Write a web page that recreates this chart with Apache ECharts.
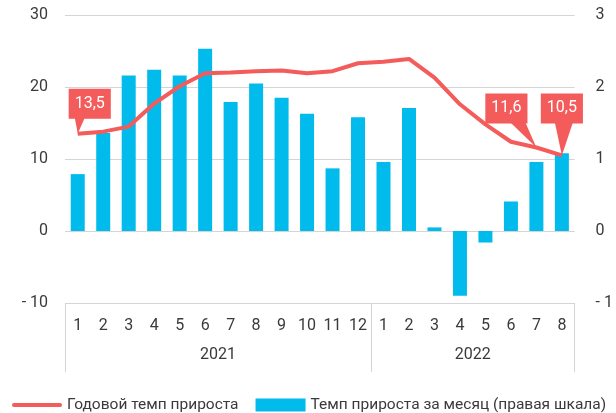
<!DOCTYPE html>
<html>
<head>
<meta charset="utf-8">
<script src="https://cdn.jsdelivr.net/npm/echarts@6/dist/echarts.min.js"></script>
<style>
  html, body { margin: 0; padding: 0; background: #fff; }
  #chart { width: 616px; height: 413px; }
</style>
</head>
<body>
<div id="chart"></div>
<script>
// months on the lower axis, years under them
const months = ["1","2","3","4","5","6","7","8","9","10","11","12","1","2","3","4","5","6","7","8"];
const years = ["","","","","","","2021","","","","","","","","","","2022","","","",""];

// годовой темп прироста, % (left scale)
const annualGrowth = [13.5, 13.8, 14.5, 17.7, 20.1, 21.9, 22.0, 22.2, 22.3, 21.9, 22.2, 23.3, 23.5, 23.9, 21.3, 17.6, 14.8, 12.4, 11.6, 10.5];
// темп прироста за месяц, % (right scale)
const monthlyGrowth = [0.79, 1.36, 2.16, 2.24, 2.16, 2.53, 1.79, 2.05, 1.85, 1.63, 0.87, 1.58, 0.96, 1.71, 0.05, -0.90, -0.16, 0.41, 0.96, 1.08];

// which points get a callout
const calloutIdx = [0, 18, 19];

const RED = "#f45b5b";
const BLUE = "#00bbec";
const TXT = "#3a3a3a";
const FONT = "Roboto";

const chart = echarts.init(document.getElementById("chart"));

function negFmt(v) {
  return v < 0 ? "- " + Math.abs(v) : String(v);
}

// callout layout: box centre shift and gap above the point, tail base
const callouts = {
  0: { dx: 12, gap: 15, t0: -3, t1: 7 },
  18: { dx: -30, gap: 24, t0: -26, t1: -11 },
  19: { dx: 0, gap: 32, t0: -7, t1: 11 }
};

const lineData = annualGrowth.map(function (v, i) {
  const c = callouts[i];
  if (!c) return v;
  return {
    value: v,
    label: {
      show: true,
      position: "top",
      distance: 0,
      offset: [c.dx, -c.gap],
      formatter: String(v).replace(".", ","),
      color: "#fff",
      fontSize: 16,
      fontFamily: FONT,
      backgroundColor: RED,
      padding: [5, 6, 5, 6],
      lineHeight: 20
    }
  };
});

const option = {
  animation: false,
  textStyle: { fontFamily: FONT },
  grid: { left: 65, right: 39, top: 15, bottom: 110 },
  legend: {
    left: 12,
    top: 397,
    width: 800,
    padding: 0,
    itemWidth: 50,
    itemHeight: 13,
    itemGap: 17,
    textStyle: { fontSize: 15.5, color: TXT, fontFamily: FONT },
    data: [
      { name: "Годовой темп прироста", icon: "path://M2,0 L48,0 A2,2 0 0 1 48,4 L2,4 A2,2 0 0 1 2,0 Z" },
      { name: "Темп прироста за месяц (правая шкала)", icon: "rect" }
    ]
  },
  xAxis: [
    {
      type: "category",
      data: months,
      axisLine: { show: false, onZero: false },
      axisTick: {
        show: true,
        interval: function (idx) { return idx === 0 || idx === 12; },
        length: 69,
        lineStyle: { color: "#d4d4d4" }
      },
      axisLabel: { interval: 0, margin: 15, fontSize: 16, color: TXT, fontFamily: FONT }
    },
    {
      type: "category",
      data: years,
      position: "bottom",
      offset: 29,
      boundaryGap: false,
      axisLine: { show: false },
      axisTick: { show: false },
      axisLabel: { interval: 0, margin: 15, fontSize: 16, color: TXT, fontFamily: FONT }
    }
  ],
  yAxis: [
    {
      type: "value",
      min: -10,
      max: 30,
      interval: 10,
      axisLine: { show: false },
      axisTick: { show: false },
      splitLine: { lineStyle: { color: "#d4d4d4", width: 1 } },
      axisLabel: { margin: 17, fontSize: 16, color: TXT, fontFamily: FONT, formatter: negFmt }
    },
    {
      type: "value",
      min: -1,
      max: 3,
      interval: 1,
      axisLine: { show: false },
      axisTick: { show: false },
      splitLine: { show: false },
      axisLabel: { margin: 21, fontSize: 16, color: TXT, fontFamily: FONT, formatter: negFmt }
    }
  ],
  series: [
    {
      name: "Темп прироста за месяц (правая шкала)",
      type: "bar",
      yAxisIndex: 1,
      barWidth: 14,
      itemStyle: { color: BLUE },
      data: monthlyGrowth
    },
    {
      name: "Годовой темп прироста",
      type: "line",
      yAxisIndex: 0,
      symbol: "circle",
      symbolSize: 0,
      showSymbol: true,
      lineStyle: { color: RED, width: 4 },
      itemStyle: { color: RED },
      z: 5,
      data: lineData
    }
  ]
};

chart.setOption(option);

// tails of the callouts, placed from the line's own coordinates
const tails = calloutIdx.map(function (i) {
  const c = callouts[i];
  const p = chart.convertToPixel({ xAxisIndex: 0, yAxisIndex: 0 }, [i, annualGrowth[i]]);
  const by = p[1] - c.gap - 1;
  return {
    type: "polygon",
    z: 10,
    shape: { points: [[p[0] + c.t0, by], [p[0] + c.t1, by], [p[0], p[1]]] },
    style: { fill: RED }
  };
});
chart.setOption({ graphic: tails });
</script>
</body>
</html>
